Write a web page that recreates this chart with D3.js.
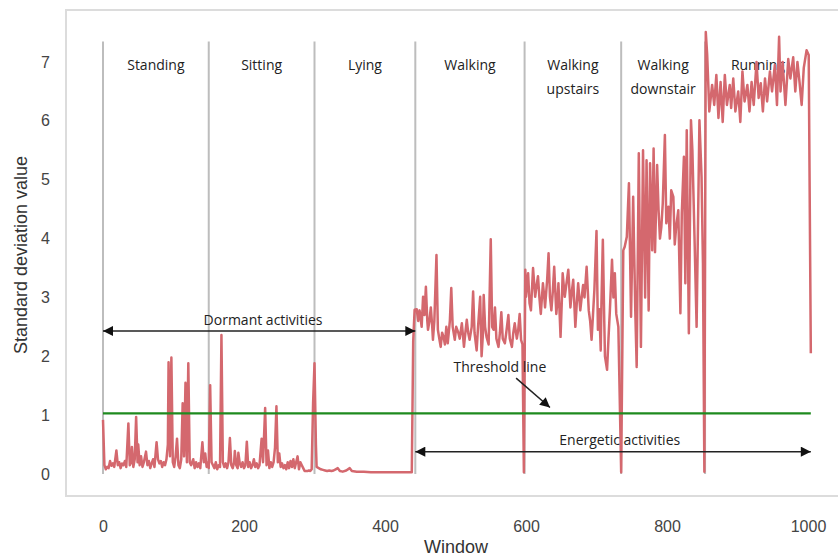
<!DOCTYPE html>
<html>
<head>
<meta charset="utf-8">
<script src="https://cdn.jsdelivr.net/npm/d3@7"></script>
<style>
  html, body { margin: 0; padding: 0; background: #fff; }
  svg { display: block; }
</style>
</head>
<body>
<svg id="chart" width="838" height="558"></svg>
<script>
// Standard deviation of the sensor signal per window, grouped by activity: [window, value]
const standing = [
  [0,0.92],[2,0.15],[4,0.08],[6,0.12],[8,0.1],[10,0.22],[12,0.14],[14,0.18],[16,0.12],[19,0.4],
  [21,0.15],[23,0.2],[25,0.1],[27,0.18],[29,0.15],[31,0.22],[33,0.12],[36,0.86],[38,0.15],[40,0.2],
  [41,0.46],[43,0.12],[45,0.25],[47,0.97],[49,0.2],[50,0.5],[52,0.15],[54,0.3],[56,0.12],[58,0.2],
  [61,0.38],[63,0.15],[65,0.22],[67,0.1],[69,0.18],[71,0.25],[73,0.12],[76,0.54],[78,0.25],[80,0.18],
  [82,0.22],[84,0.12],[86,0.2],[88,0.15],[90,0.25],[92,0.5],[93,1.9],[95,0.3],[97,1.98],[99,0.2],
  [101,0.12],[103,0.3],[105,0.6],[107,0.15],[109,0.1],[111,0.25],[113,1.2],[115,0.3],[117,1.55],[119,0.2],
  [121,1.88],[123,0.2],[125,0.15],[128,0.25],[130,0.1],[132,0.2],[134,0.12],[136,0.18],[138,0.1],[141,0.54],
  [143,0.2],[145,0.35],[147,0.12],[149,0.2]
];
const sitting = [
  [150,0.1],[152,1.51],[154,0.2],[156,0.15],[158,0.1],[160,0.2],[162,0.08],[164,0.15],[166,0.12],[168,2.36],
  [170,0.2],[172,0.12],[174,0.18],[176,0.1],[178,0.2],[180,0.61],[182,0.15],[184,0.1],[186,0.2],[187,0.39],
  [189,0.15],[191,0.1],[192,0.36],[194,0.18],[196,0.12],[198,0.2],[200,0.1],[202,0.15],[204,0.55],[206,0.12],
  [208,0.2],[210,0.1],[212,0.15],[214,0.25],[216,0.12],[218,0.18],[220,0.1],[222,0.15],[225,0.6],[227,0.2],
  [230,1.12],[232,0.15],[234,0.4],[236,0.1],[238,0.2],[240,0.12],[242,0.2],[244,0.45],[246,1.15],[248,0.2],
  [250,0.35],[252,0.12],[254,0.18],[256,0.1],[258,0.15],[260,0.08],[262,0.2],[264,0.1],[266,0.22],[268,0.12],
  [270,0.25],[272,0.1],[274,0.2],[276,0.3],[278,0.08],[280,0.2],[282,0.15],[284,0.1],[286,0.05],[288,0.05],
  [290,0.05],[292,0.06],[294,0.05],[296,0.08],[298,1.2]
];
const lying = [
  [300,1.88],[302,0.5],[303,0.12],[306,0.1],[309,0.08],[312,0.07],[315,0.06],[318,0.05],[321,0.06],[324,0.05],
  [327,0.06],[330,0.08],[333,0.1],[336,0.05],[340,0.04],[345,0.06],[350,0.1],[353,0.05],[360,0.04],[370,0.04],
  [380,0.03],[390,0.03],[400,0.03],[410,0.03],[420,0.03],[430,0.03],[438,0.03],[440,2.25]
];
const walking = [
  [442,2.79],[445,2.8],[447,2.6],[449,2.78],[452,2.5],[454,3.01],[456,2.7],[458,3.18],[460,2.6],[461,2.45],
  [463,2.6],[465,2.83],[467,2.5],[468,2.28],[470,2.6],[473,3.72],[475,2.45],[477,2.3],[479,2.16],[481,2.4],
  [483,2.33],[485,2.2],[487,2.5],[489,2.22],[492,2.6],[494,3.16],[496,2.5],[499,2.28],[501,2.5],[504,2.4],
  [506,2.3],[509,2.56],[511,2.3],[512,2.16],[514,2.4],[516,2.62],[518,2.4],[520,2.28],[523,2.5],[525,3.1],
  [527,2.4],[530,2.1],[532,2.5],[535,3.01],[537,2.0],[539,2.4],[540,3.04],[542,2.5],[544,2.33],[547,2.2],
  [550,3.99],[552,2.5],[554,2.45],[556,2.83],[558,2.3],[561,2.16],[563,2.4],[565,2.75],[567,2.3],[570,2.22],
  [572,2.4],[575,2.7],[577,2.3],[580,2.16],[582,2.4],[584,2.56],[587,2.3],[589,2.45],[591,2.72],[593,2.28],
  [595,2.2],[597,0.03]
];
const upstairs = [
  [599,3.47],[600,3.01],[603,3.41],[605,2.9],[607,2.78],[610,3.5],[613,3.01],[615,3.2],[617,3.36],[619,3.0],
  [621,2.72],[624,3.24],[626,3.0],[627,2.83],[630,3.3],[632,3.75],[634,3.0],[636,2.78],[638,3.1],[640,3.52],
  [643,2.72],[645,3.0],[646,3.24],[649,2.33],[651,3.0],[652,3.41],[655,3.01],[657,3.2],[660,3.47],[663,2.83],
  [665,3.1],[667,3.3],[670,2.5],[672,2.9],[674,3.24],[677,2.78],[679,3.0],[681,3.21],[683,3.0],[686,3.52],
  [689,2.78],[691,2.6],[693,2.28],[695,2.7],[697,3.13],[700,4.13],[702,2.45],[704,2.8],[706,2.1],[707,2.9],
  [709,3.98],[711,2.6],[712,2.0],[715,1.77],[717,2.3],[719,2.78],[722,3.64],[724,3.0],[726,3.41],[728,2.72],
  [731,2.5],[735,0.03]
];
const downstairs = [
  [738,3.8],[740,3.86],[743,4.03],[746,4.94],[749,2.67],[752,4.71],[755,2.78],[757,1.82],[760,5.45],[763,2.16],
  [766,5.5],[769,3.0],[771,5.33],[774,2.78],[776,5.28],[779,3.8],[781,5.53],[783,3.77],[786,5.25],[788,4.49],
  [790,4.0],[792,4.2],[794,4.6],[797,5.76],[799,4.26],[802,4.54],[804,4.0],[806,4.82],[809,4.71],[811,3.9],
  [813,4.2],[816,4.48],[819,2.73],[821,4.43],[824,5.39],[826,3.24],[828,5.84],[831,2.39],[834,6.01],[836,5.5],
  [839,4.03],[842,2.5],[846,6.01],[849,5.05],[851,3.58],[853,0.04]
];
const running = [
  [855,7.51],[857,7.12],[860,6.16],[864,6.61],[867,6.27],[870,6.78],[873,6.05],[876,6.66],[879,5.98],[882,6.78],
  [885,6.27],[889,6.61],[891,6.22],[894,6.72],[897,6.16],[901,6.5],[904,5.98],[907,6.84],[910,6.33],[914,6.61],
  [917,6.16],[920,6.66],[923,6.27],[927,7.0],[930,6.39],[933,6.64],[936,6.16],[939,6.72],[942,6.33],[946,6.84],
  [949,6.5],[953,6.95],[956,6.27],[959,7.43],[961,6.5],[964,7.0],[968,6.27],[972,7.05],[975,6.72],[979,7.08],
  [982,6.5],[985,7.0],[988,6.66],[991,6.27],[994,6.9],[998,7.2],[1001,7.12],[1004,2.05]
];

// Activity names and the windows where each activity segment begins/ends
const activityLabels = [["Standing"],["Sitting"],["Lying"],["Walking"],["Walking","upstairs"],["Walking","downstair"],["Running"]];
const boundaries = [0, 150, 300, 443, 598, 735, 854, 1004];
const xTicks = [0, 200, 400, 600, 800, 1000];
const yTicks = [0, 1, 2, 3, 4, 5, 6, 7];
const threshold = 1.03;

const series = [].concat(standing, sitting, lying, walking, upstairs, downstairs, running);

const svg = d3.select("#chart");
const x = d3.scaleLinear().domain([0, 1000]).range([103, 808]);
const y = d3.scaleLinear().domain([0, 7]).range([474, 62]);

const labelFont = "'Open Sans', sans-serif";
const tickFont = "'Liberation Sans', Arial, sans-serif";

// arrowhead marker
const defs = svg.append("defs");
defs.append("marker")
  .attr("id", "arrow")
  .attr("viewBox", "0 0 10 10")
  .attr("refX", 10).attr("refY", 5)
  .attr("markerWidth", 11).attr("markerHeight", 10)
  .attr("markerUnits", "userSpaceOnUse")
  .attr("orient", "auto-start-reverse")
  .append("path").attr("d", "M0,0 L10,5 L0,10 z").attr("fill", "#111");

// plot frame
svg.append("rect")
  .attr("x", 66).attr("y", 10).attr("width", 776).attr("height", 486)
  .attr("fill", "none").attr("stroke", "#dcdcdc").attr("stroke-width", 2);

// activity separators
svg.append("g").selectAll("line")
  .data(boundaries.slice(0, 7))
  .join("line")
  .attr("x1", d => x(d)).attr("x2", d => x(d))
  .attr("y1", y(0)).attr("y2", y(7.35))
  .attr("stroke", "#bdbdbd").attr("stroke-width", 2);

// axes (labels only)
const xAxis = svg.append("g")
  .attr("transform", `translate(0,${y(0)})`)
  .call(d3.axisBottom(x).tickValues(xTicks).tickFormat(d3.format("d")).tickSize(0).tickPadding(47));
const yAxis = svg.append("g")
  .attr("transform", "translate(103,0)")
  .call(d3.axisLeft(y).tickValues(yTicks).tickFormat(d3.format("d")).tickSize(0).tickPadding(53));
[xAxis, yAxis].forEach(g => {
  g.select(".domain").remove();
  g.selectAll("text").attr("font-family", tickFont).attr("font-size", 16).attr("fill", "#444");
});

// axis titles
svg.append("text")
  .attr("x", 456).attr("y", 553)
  .attr("text-anchor", "middle")
  .attr("font-family", tickFont).attr("font-size", 18).attr("fill", "#333")
  .text("Window");
svg.append("text")
  .attr("transform", "translate(27,255) rotate(-90)")
  .attr("text-anchor", "middle")
  .attr("font-family", tickFont).attr("font-size", 18).attr("fill", "#333")
  .text("Standard deviation value");

// activity labels, centred in each segment
const lab = svg.append("g").attr("font-family", labelFont).attr("font-size", 14).attr("fill", "#222")
  .attr("text-anchor", "middle");
activityLabels.forEach((lines, i) => {
  const cx = x((boundaries[i] + boundaries[i + 1]) / 2);
  const t = lab.append("text").attr("x", cx).attr("y", 70);
  lines.forEach((s, j) => t.append("tspan").attr("x", cx).attr("dy", j === 0 ? 0 : 24).text(s));
});

// data line
svg.append("path")
  .datum(series)
  .attr("fill", "none")
  .attr("stroke", "#d4686e")
  .attr("stroke-width", 2.5)
  .attr("stroke-linejoin", "round")
  .attr("d", d3.line().x(d => x(d[0])).y(d => y(d[1])));

// threshold line
svg.append("line")
  .attr("x1", x(0)).attr("x2", x(1004))
  .attr("y1", y(threshold)).attr("y2", y(threshold))
  .attr("stroke", "#1e8a1e").attr("stroke-width", 2.4);

// annotations
const ann = svg.append("g").attr("font-family", labelFont).attr("font-size", 14).attr("fill", "#222");
function arrow(x1, y1, x2, y2, both) {
  const l = svg.append("line")
    .attr("x1", x1).attr("y1", y1).attr("x2", x2).attr("y2", y2)
    .attr("stroke", "#222").attr("stroke-width", 1.5)
    .attr("marker-end", "url(#arrow)");
  if (both) l.attr("marker-start", "url(#arrow)");
}
arrow(x(0), y(2.43), x(443), y(2.43), true);
ann.append("text").attr("x", x(227)).attr("y", y(2.53)).attr("text-anchor", "middle").text("Dormant activities");

arrow(x(443), y(0.38), x(1004), y(0.38), true);
ann.append("text").attr("x", x(733)).attr("y", y(0.49)).attr("text-anchor", "middle").text("Energetic activities");

ann.append("text").attr("x", x(563)).attr("y", y(1.73)).attr("text-anchor", "middle").text("Threshold line");
arrow(x(586), y(1.63), x(634), y(1.13), false);
</script>
</body>
</html>
